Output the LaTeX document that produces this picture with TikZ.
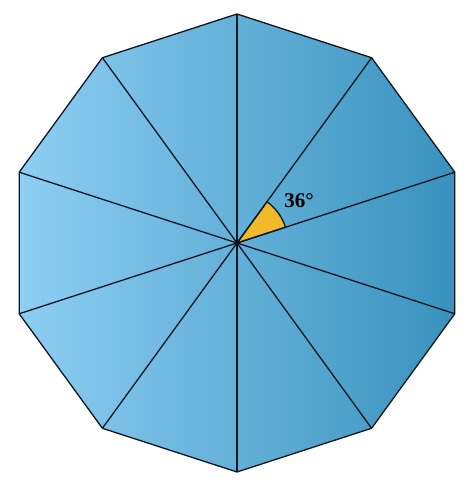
\documentclass[tikz,border=0pt]{standalone}
\usepackage{xcolor}
\usepackage{fontspec}
\setmainfont{Liberation Serif}
\usepackage{tikz}
\definecolor{leftblue}{RGB}{142,206,243}
\definecolor{rightblue}{RGB}{56,146,189}
\definecolor{wedgeyellow}{RGB}{242,186,42}
\definecolor{edge}{RGB}{12,22,34}

\begin{document}
\begin{tikzpicture}[x=1pt,y=1pt,line width=1.3pt,line join=round]
\useasboundingbox (0,0) rectangle (474,486);
\coordinate (O) at (237,243);
\foreach \i in {0,...,9} \coordinate (v\i) at ([shift={(O)}]90-36*\i:229);
\shade [left color=leftblue,right color=rightblue] (v0) \foreach \i in {1,...,9} {-- (v\i)} -- cycle;
\filldraw [fill=wedgeyellow,draw=edge] (O) -- ([shift={(O)}]18:51) arc (18:54:51) -- cycle;
\foreach \i in {0,...,9} \draw [edge] (O) -- (v\i);
\draw [edge] (v0) \foreach \i in {1,...,9} {-- (v\i)} -- cycle;
\node [font=\fontsize{21}{25}\selectfont\bfseries] (lbl) at ([shift={(62,42)}]O) {36\textdegree};
\end{tikzpicture}
\end{document}
